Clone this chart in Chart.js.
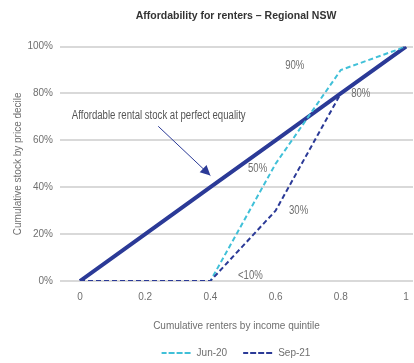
<!DOCTYPE html>
<html lang="en">
<head>
<meta charset="UTF-8">
<title>Affordability for renters</title>
<script src="https://cdn.jsdelivr.net/npm/chart.js"></script>
<style>
  html, body { margin: 0; padding: 0; background: #fff; }
  #wrap { width: 414px; height: 363px; }
</style>
</head>
<body>
<div id="wrap"><canvas id="grafico"></canvas></div>
<script>
// data
const quintiles = [0, 0.2, 0.4, 0.6, 0.8, 1];
const equality = [0, 0.2, 0.4, 0.6, 0.8, 1];
const jun20 = [0, 0, 0, 0.5, 0.9, 1];
const sep21 = [0, 0, 0, 0.3, 0.8, 1];
const yTicks = [0, 0.2, 0.4, 0.6, 0.8, 1];
const xTicks = [0, 0.2, 0.4, 0.6, 0.8, 1];
const noteText = 'Affordable rental stock at perfect equality';
// point labels: series, index, text
const pointLabels = [
  { series: 'jun20', i: 4, text: '90%' },
  { series: 'sep21', i: 4, text: '80%' },
  { series: 'jun20', i: 3, text: '50%' },
  { series: 'sep21', i: 3, text: '30%' },
  { series: 'sep21', i: 2, text: '<10%' }
];

const FONT = "'Liberation Sans', Arial, sans-serif";
const GREY = '#6f6f6f';
const NAVY = '#2b3a97';
const LIGHT = '#40c0d8';
const SQUEEZE = 0.8; // narrow look for the hand drawn texts

function pts(ys) {
  return quintiles.map((x, i) => ({ x: x, y: ys[i] }));
}

// where each label sits relative to its point (pixels)
const labelOffsets = {
  '90%': [-46, -4], '80%': [20, 0], '50%': [-18, 5], '30%': [23, 0], '<10%': [40, -5]
};

function narrowText(ctx, text, x, y) {
  ctx.save();
  ctx.translate(x, y);
  ctx.scale(SQUEEZE, 1);
  ctx.fillText(text, 0, 0);
  ctx.restore();
}

// annotation text, arrow and point labels
const notes = {
  id: 'notes',
  afterDatasetsDraw(chart) {
    const ctx = chart.ctx;
    const xs = chart.scales.x, ys = chart.scales.y;
    const data = { jun20: jun20, sep21: sep21 };
    ctx.save();
    ctx.fillStyle = GREY;
    ctx.font = '12px ' + FONT;
    ctx.textBaseline = 'middle';
    ctx.textAlign = 'center';
    pointLabels.forEach(l => {
      const px = xs.getPixelForValue(quintiles[l.i]);
      const py = ys.getPixelForValue(data[l.series][l.i]);
      const o = labelOffsets[l.text];
      narrowText(ctx, l.text, px + o[0], py + o[1]);
    });

    // note and arrow
    ctx.textAlign = 'left';
    ctx.fillStyle = '#555';
    narrowText(ctx, noteText, xs.getPixelForValue(-0.025), ys.getPixelForValue(0.705));
    const x0 = xs.getPixelForValue(0.24), y0 = ys.getPixelForValue(0.66);
    const x1 = xs.getPixelForValue(0.40), y1 = ys.getPixelForValue(0.45);
    ctx.strokeStyle = NAVY;
    ctx.lineWidth = 1;
    ctx.beginPath();
    ctx.moveTo(x0, y0);
    ctx.lineTo(x1, y1);
    ctx.stroke();
    const ang = Math.atan2(y1 - y0, x1 - x0);
    ctx.fillStyle = NAVY;
    ctx.beginPath();
    ctx.moveTo(x1, y1);
    ctx.lineTo(x1 - 10 * Math.cos(ang) + 5 * Math.sin(ang), y1 - 10 * Math.sin(ang) - 5 * Math.cos(ang));
    ctx.lineTo(x1 - 10 * Math.cos(ang) - 5 * Math.sin(ang), y1 - 10 * Math.sin(ang) + 5 * Math.cos(ang));
    ctx.closePath();
    ctx.fill();
    ctx.restore();
  }
};

// centre title and legend over the plot area rather than the canvas
const centreOnPlot = {
  id: 'centreOnPlot',
  afterLayout(chart) {
    const shift = (chart.chartArea.left + chart.chartArea.right) / 2 - chart.width / 2;
    chart.legend.left += shift;
    chart.legend.right += shift;
    chart.legend.top += 5;
    chart.legend.bottom += 5;
    chart.titleBlock.left += shift;
    chart.titleBlock.right += shift;
  }
};

const grafico = new Chart(document.getElementById('grafico').getContext('2d'), {
  type: 'line',
  data: {
    datasets: [
      {
        label: 'Equality',
        data: pts(equality),
        borderColor: NAVY,
        borderWidth: 4,
        pointRadius: 0,
        fill: false,
        order: 2
      },
      {
        label: 'Jun-20',
        data: pts(jun20),
        borderColor: LIGHT,
        backgroundColor: 'rgba(0,0,0,0)',
        borderWidth: 2,
        borderDash: [5, 3],
        pointRadius: 0,
        fill: false,
        order: 1
      },
      {
        label: 'Sep-21',
        data: pts(sep21),
        borderColor: NAVY,
        backgroundColor: 'rgba(0,0,0,0)',
        borderWidth: 2,
        borderDash: [5, 3],
        pointRadius: 0,
        fill: false,
        order: 0
      }
    ]
  },
  options: {
    responsive: true,
    maintainAspectRatio: false,
    animation: false,
    layout: { padding: { top: 0, right: 1, bottom: 0, left: 0 } },
    plugins: {
      title: {
        display: true,
        text: 'Affordability for renters \u2013 Regional NSW',
        color: '#333',
        font: { family: FONT, size: 10.5, weight: 'bold' },
        padding: { top: 10, bottom: 24 }
      },
      legend: {
        position: 'bottom',
        labels: {
          filter: item => item.text !== 'Equality',
          sort: (a, b) => a.datasetIndex - b.datasetIndex,
          boxWidth: 30,
          boxHeight: 0,
          color: GREY,
          padding: 16,
          font: { family: FONT, size: 10 }
        }
      },
      tooltip: { enabled: false }
    },
    scales: {
      x: {
        type: 'linear',
        min: -0.0613,
        max: 1.0215,
        afterBuildTicks: axis => { axis.ticks = xTicks.map(v => ({ value: v })); },
        afterFit: scale => { scale.height = 46; },
        grid: { display: false },
        border: { display: false },
        ticks: {
          color: GREY,
          padding: 2,
          font: { family: FONT, size: 10 },
          maxRotation: 0,
          callback: v => String(v)
        },
        title: {
          display: true,
          text: 'Cumulative renters by income quintile',
          color: GREY,
          font: { family: FONT, size: 10 },
          padding: { top: 14, bottom: -5 }
        }
      },
      y: {
        type: 'linear',
        min: 0,
        max: 1,
        afterBuildTicks: axis => { axis.ticks = yTicks.map(v => ({ value: v })); },
        afterFit: scale => { scale.width = 60; },
        grid: { color: '#d9d9d9', lineWidth: 2, drawTicks: false },
        border: { display: false },
        ticks: {
          color: GREY,
          padding: 7,
          font: { family: FONT, size: 10 },
          callback: v => Math.round(v * 100) + '%'
        },
        title: {
          display: true,
          text: 'Cumulative stock by price decile',
          color: GREY,
          font: { family: FONT, size: 10 },
          padding: { top: 12, bottom: 4 }
        }
      }
    }
  },
  plugins: [notes, centreOnPlot]
});
</script>
</body>
</html>
